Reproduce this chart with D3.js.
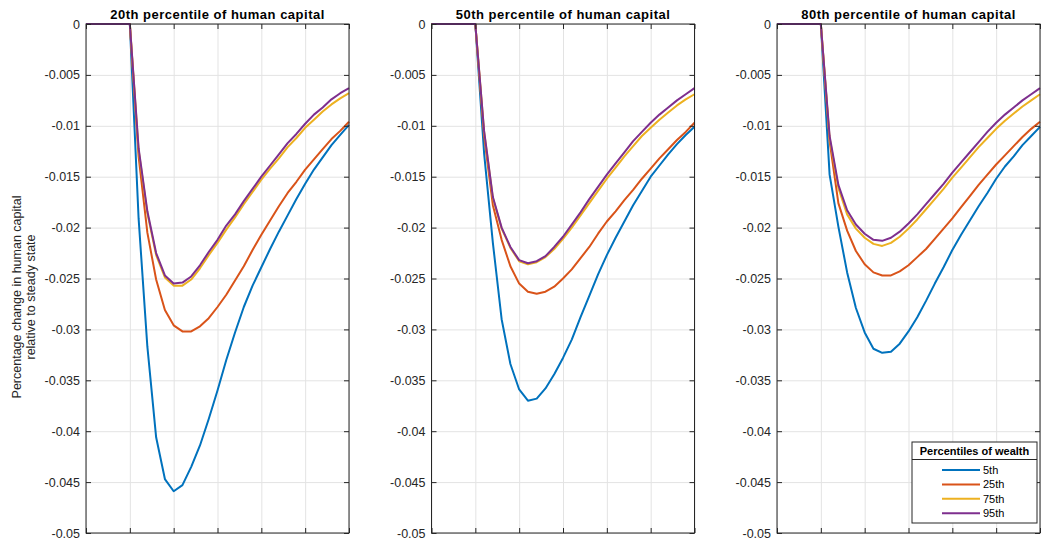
<!DOCTYPE html>
<html>
<head>
<meta charset="utf-8">
<script src="https://cdn.jsdelivr.net/npm/d3@7"></script>
<style>
  body { margin: 0; background: #fff; }
  svg { display: block; font-family: "Liberation Sans", Arial, Helvetica, sans-serif; }
</style>
</head>
<body>
<div id="chart"></div>
<script>
// periods on the x axis (no labels shown in the figure)
const periods = [0,1,2,3,4,5,6,7,8,9,10,11,12,13,14,15,16,17,18,19,20,21,22,23,24,25,26,27,28,29,30];
const xTicks = [0,5,10,15,20,25,30];
const yTicks = [0,-0.005,-0.01,-0.015,-0.02,-0.025,-0.03,-0.035,-0.04,-0.045,-0.05];
const yTickLabels = ["0","-0.005","-0.01","-0.015","-0.02","-0.025","-0.03","-0.035","-0.04","-0.045","-0.05"];

const panelTitles = ["20th percentile of human capital", "50th percentile of human capital", "80th percentile of human capital"];
const wealthGroups = ["5th", "25th", "75th", "95th"];
const lineColors = ["#0072BD", "#D95319", "#EDB120", "#7E2F8E"];

// 20th percentile of human capital
const hc20_w5  = [0,0,0,0,0,0,-0.0191,-0.0317,-0.0406,-0.0447,-0.0459,-0.0453,-0.0435,-0.0414,-0.0388,-0.0360,-0.0330,-0.0303,-0.0278,-0.0257,-0.0239,-0.0221,-0.0204,-0.0188,-0.0172,-0.0157,-0.0143,-0.0131,-0.0119,-0.0109,-0.0099];
const hc20_w25 = [0,0,0,0,0,0,-0.0130,-0.0205,-0.0251,-0.0281,-0.0296,-0.0302,-0.0302,-0.0297,-0.0289,-0.0278,-0.0266,-0.0252,-0.0238,-0.0222,-0.0207,-0.0193,-0.0179,-0.0166,-0.0155,-0.0143,-0.0133,-0.0123,-0.0113,-0.0105,-0.0096];
const hc20_w75 = [0,0,0,0,0,0,-0.0124,-0.0186,-0.0227,-0.0249,-0.0257,-0.0257,-0.0251,-0.0240,-0.0227,-0.0215,-0.0202,-0.0190,-0.0177,-0.0165,-0.0153,-0.0142,-0.0132,-0.0121,-0.0112,-0.0102,-0.0094,-0.0086,-0.0079,-0.0073,-0.0068];
const hc20_w95 = [0,0,0,0,0,0,-0.0122,-0.0184,-0.0225,-0.0247,-0.0255,-0.0254,-0.0248,-0.0237,-0.0224,-0.0212,-0.0198,-0.0187,-0.0174,-0.0162,-0.0150,-0.0139,-0.0128,-0.0117,-0.0108,-0.0098,-0.0089,-0.0082,-0.0074,-0.0068,-0.0063];

// 50th percentile of human capital
const hc50_w5  = [0,0,0,0,0,0,-0.0127,-0.0215,-0.0290,-0.0334,-0.0359,-0.0370,-0.0368,-0.0358,-0.0344,-0.0328,-0.0310,-0.0288,-0.0267,-0.0246,-0.0227,-0.0210,-0.0194,-0.0178,-0.0164,-0.0150,-0.0139,-0.0128,-0.0118,-0.0109,-0.0101];
const hc50_w25 = [0,0,0,0,0,0,-0.0110,-0.0178,-0.0212,-0.0238,-0.0255,-0.0263,-0.0265,-0.0263,-0.0258,-0.0250,-0.0241,-0.0230,-0.0219,-0.0206,-0.0194,-0.0184,-0.0173,-0.0163,-0.0152,-0.0142,-0.0132,-0.0123,-0.0114,-0.0106,-0.0097];
const hc50_w75 = [0,0,0,0,0,0,-0.0106,-0.0171,-0.0201,-0.0220,-0.0233,-0.0236,-0.0234,-0.0229,-0.0221,-0.0211,-0.0200,-0.0188,-0.0176,-0.0164,-0.0152,-0.0141,-0.0130,-0.0120,-0.0110,-0.0102,-0.0094,-0.0087,-0.0080,-0.0074,-0.0069];
const hc50_w95 = [0,0,0,0,0,0,-0.0105,-0.0170,-0.0200,-0.0219,-0.0232,-0.0235,-0.0233,-0.0228,-0.0219,-0.0209,-0.0197,-0.0185,-0.0172,-0.0160,-0.0148,-0.0137,-0.0126,-0.0115,-0.0106,-0.0097,-0.0089,-0.0082,-0.0075,-0.0069,-0.0063];

// 80th percentile of human capital
const hc80_w5  = [0,0,0,0,0,0,-0.0148,-0.0199,-0.0244,-0.0279,-0.0303,-0.0319,-0.0323,-0.0322,-0.0314,-0.0302,-0.0288,-0.0272,-0.0255,-0.0239,-0.0222,-0.0207,-0.0193,-0.0179,-0.0166,-0.0152,-0.0140,-0.0130,-0.0119,-0.0110,-0.0101];
const hc80_w25 = [0,0,0,0,0,0,-0.0115,-0.0176,-0.0203,-0.0223,-0.0236,-0.0244,-0.0247,-0.0247,-0.0243,-0.0237,-0.0229,-0.0221,-0.0211,-0.0201,-0.0191,-0.0180,-0.0169,-0.0158,-0.0148,-0.0138,-0.0129,-0.0120,-0.0111,-0.0103,-0.0096];
const hc80_w75 = [0,0,0,0,0,0,-0.0112,-0.0161,-0.0187,-0.0201,-0.0210,-0.0216,-0.0218,-0.0215,-0.0209,-0.0201,-0.0192,-0.0182,-0.0172,-0.0162,-0.0151,-0.0141,-0.0131,-0.0121,-0.0112,-0.0103,-0.0095,-0.0088,-0.0081,-0.0075,-0.0069];
const hc80_w95 = [0,0,0,0,0,0,-0.0110,-0.0158,-0.0183,-0.0197,-0.0206,-0.0212,-0.0213,-0.0210,-0.0204,-0.0196,-0.0187,-0.0177,-0.0167,-0.0157,-0.0146,-0.0136,-0.0126,-0.0116,-0.0106,-0.0097,-0.0089,-0.0082,-0.0075,-0.0069,-0.0063];

const panelSeries = [
  [hc20_w5, hc20_w25, hc20_w75, hc20_w95],
  [hc50_w5, hc50_w25, hc50_w75, hc50_w95],
  [hc80_w5, hc80_w25, hc80_w75, hc80_w95]
];

function draw() {

  let width = 1046, height = 541;
  let panelLeft = [86, 431.5, 777],
      panelTop = 24,
      pw = 263,
      ph = 509;
  let axisColor = "#262626";

  let svg = d3.select("#chart").append("svg")
      .attr("width", width)
      .attr("height", height);

  svg.append("rect").attr("width", width).attr("height", height).attr("fill", "#fff");

  let x = d3.scaleLinear().domain([0, 30]).range([0, pw]);
  let y = d3.scaleLinear().domain([-0.05, 0]).range([ph, 0]);

  let line = d3.line()
      .x((d, i) => x(periods[i]))
      .y(d => y(d));

  svg.append("defs").append("clipPath").attr("id", "plotClip")
    .append("rect").attr("x", -1).attr("y", -2).attr("width", pw + 2).attr("height", ph + 4);

  for (let [p, series] of panelSeries.entries()) {

    let g = svg.append("g")
        .attr("transform", "translate(" + panelLeft[p] + "," + panelTop + ")");

    // grid
    g.append("g")
        .call(d3.axisBottom(x).tickValues(xTicks).tickSize(ph).tickFormat(""))
        .call(s => s.select(".domain").remove())
        .call(s => s.selectAll("line").attr("stroke", "#e3e3e3"));
    g.append("g")
        .call(d3.axisLeft(y).tickValues(yTicks).tickSize(-pw).tickFormat(""))
        .call(s => s.select(".domain").remove())
        .call(s => s.selectAll("line").attr("stroke", "#e3e3e3"));

    // the curves
    g.append("g").attr("clip-path", "url(#plotClip)")
      .selectAll("path")
      .data(series)
      .enter()
      .append("path")
      .attr("d", line)
      .attr("fill", "none")
      .attr("stroke", (d, i) => lineColors[i])
      .attr("stroke-width", 2)
      .attr("stroke-linejoin", "round");

    // axes with inward ticks on all four sides
    let left = g.append("g")
        .call(d3.axisLeft(y).tickValues(yTicks).tickSizeInner(-5).tickSizeOuter(0).tickPadding(6)
          .tickFormat((d, i) => yTickLabels[i]));
    left.selectAll("text").attr("font-size", "12.5px").attr("fill", axisColor)
        .attr("font-family", "'Liberation Sans', Arial, sans-serif");
    g.append("g").attr("transform", "translate(" + pw + ",0)")
        .call(d3.axisRight(y).tickValues(yTicks).tickSizeInner(-5).tickSizeOuter(0).tickFormat(""));
    g.append("g").attr("transform", "translate(0," + ph + ")")
        .call(d3.axisBottom(x).tickValues(xTicks).tickSizeInner(-5).tickSizeOuter(0).tickFormat(""));
    g.append("g")
        .call(d3.axisTop(x).tickValues(xTicks).tickSizeInner(-5).tickSizeOuter(0).tickFormat(""));

    g.selectAll(".domain").attr("stroke", "none");
    g.selectAll(".tick line").filter(function() { return d3.select(this).attr("stroke") !== "#e3e3e3"; })
        .attr("stroke", axisColor);

    g.append("rect")
        .attr("width", pw).attr("height", ph)
        .attr("fill", "none")
        .attr("stroke", axisColor)
        .attr("stroke-width", 1);

    // title
    g.append("text")
        .attr("x", pw / 2)
        .attr("y", -5.5)
        .attr("text-anchor", "middle")
        .attr("font-size", "13px")
        .attr("letter-spacing", "0.5px")
        .attr("font-weight", "bold")
        .attr("fill", "#000")
        .text(panelTitles[p]);
  }

  // y label
  let ylab = svg.append("text")
      .attr("transform", "translate(21,297) rotate(-90)")
      .attr("text-anchor", "middle")
      .attr("font-size", "12.5px")
      .attr("fill", axisColor);
  ylab.append("tspan").attr("x", 0).attr("y", 0).text("Percentage change in human capital");
  ylab.append("tspan").attr("x", 0).attr("y", 14).text("relative to steady state");

  // legend
  let lg = svg.append("g").attr("transform", "translate(912,442)");
  lg.append("rect")
      .attr("width", 125).attr("height", 81)
      .attr("fill", "#fff")
      .attr("stroke", axisColor)
      .attr("stroke-width", 1);
  lg.append("text")
      .attr("x", 62.5).attr("y", 13)
      .attr("text-anchor", "middle")
      .attr("font-size", "11px")
      .attr("font-weight", "bold")
      .attr("fill", "#000")
      .text("Percentiles of wealth");
  lg.append("line")
      .attr("x1", 0).attr("x2", 125)
      .attr("y1", 17.5).attr("y2", 17.5)
      .attr("stroke", axisColor);

  let items = lg.selectAll(".item")
      .data(wealthGroups)
      .enter()
      .append("g")
      .attr("class", "item")
      .attr("transform", (d, i) => "translate(0," + (28 + i * 14.4) + ")");
  items.append("line")
      .attr("x1", 30).attr("x2", 68)
      .attr("stroke", (d, i) => lineColors[i])
      .attr("stroke-width", 2);
  items.append("text")
      .attr("x", 71).attr("y", 4)
      .attr("font-size", "11px")
      .attr("fill", "#000")
      .text(d => d);
}

draw();
</script>
</body>
</html>
